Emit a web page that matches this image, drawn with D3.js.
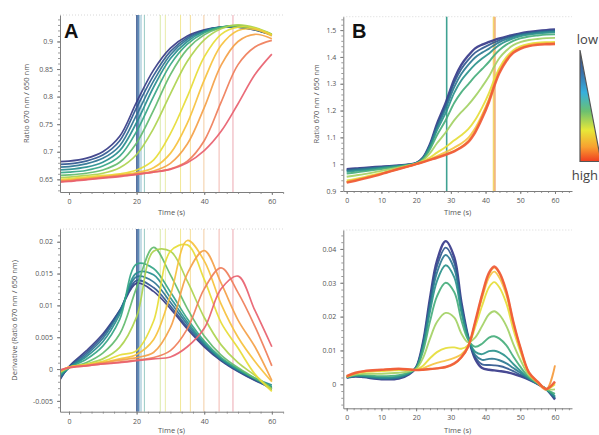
<!DOCTYPE html>
<html>
<head>
<meta charset="utf-8">
<script src="https://cdn.jsdelivr.net/npm/d3@7"></script>
<style>
body { margin: 0; background: #fff; }
svg { display: block; font-family: 'Open Sans', sans-serif; }
.axis path, .axis line { stroke: #7d7d7d; }
.axis text { fill: #555; font-size: 7px; font-family: 'Open Sans', sans-serif; }
.minor line { stroke: #9a9a9a; }
.minor path { display: none; }
.title { fill: #555; font-size: 7.5px; }
.letter { fill: #111; font-size: 20px; font-weight: bold; font-family: 'Liberation Sans', Arial, sans-serif; }
</style>
</head>
<body>
<svg id="chart" width="599" height="435"></svg>
<script>
// sample times (s)
const tA = [-3, 0, 5, 10, 15, 20, 25, 30, 35, 40, 45, 50, 55, 60];
const tB = [0, 2.5, 5, 10, 15, 18, 20, 22, 24, 26, 28.5, 31, 33, 35, 37, 39, 41, 42.5, 44, 46, 48, 50, 52.5, 55, 57.5, 60];

// panel A, ratio 670/650, low -> high
const ratioA = [
    [0.682, 0.683, 0.688, 0.700, 0.728, 0.790, 0.848, 0.888, 0.910, 0.921, 0.926, 0.926, 0.921, 0.912],
    [0.677, 0.678, 0.683, 0.694, 0.720, 0.780, 0.838, 0.882, 0.907, 0.920, 0.926, 0.926, 0.921, 0.912],
    [0.672, 0.673, 0.678, 0.688, 0.711, 0.767, 0.828, 0.876, 0.904, 0.919, 0.926, 0.927, 0.922, 0.912],
    [0.667, 0.668, 0.672, 0.681, 0.702, 0.753, 0.817, 0.869, 0.900, 0.918, 0.926, 0.927, 0.922, 0.912],
    [0.662, 0.663, 0.666, 0.674, 0.692, 0.737, 0.800, 0.858, 0.895, 0.916, 0.926, 0.928, 0.923, 0.912],
    [0.657, 0.658, 0.661, 0.667, 0.681, 0.716, 0.775, 0.840, 0.886, 0.912, 0.925, 0.929, 0.924, 0.913],
    [0.653, 0.654, 0.657, 0.661, 0.671, 0.695, 0.742, 0.805, 0.864, 0.903, 0.923, 0.930, 0.925, 0.913],
    [0.650, 0.651, 0.654, 0.657, 0.660, 0.667, 0.685, 0.733, 0.800, 0.872, 0.913, 0.926, 0.924, 0.912],
    [0.648, 0.649, 0.652, 0.655, 0.658, 0.662, 0.671, 0.697, 0.752, 0.830, 0.893, 0.920, 0.922, 0.910],
    [0.647, 0.648, 0.651, 0.654, 0.657, 0.660, 0.665, 0.679, 0.714, 0.780, 0.857, 0.900, 0.913, 0.905],
    [0.646, 0.647, 0.650, 0.653, 0.656, 0.659, 0.663, 0.669, 0.683, 0.720, 0.790, 0.858, 0.890, 0.902],
    [0.645, 0.646, 0.649, 0.652, 0.655, 0.659, 0.663, 0.668, 0.680, 0.702, 0.737, 0.787, 0.840, 0.877]
];

// panel A, derivative
const derivA = [
    [-0.0020, 0.0004, 0.0028, 0.0055, 0.0092, 0.0135, 0.0122, 0.0095, 0.0063, 0.0035, 0.0013, -0.0004, -0.0018, -0.0030],
    [-0.0018, 0.0003, 0.0025, 0.0052, 0.0092, 0.0139, 0.0128, 0.0099, 0.0066, 0.0037, 0.0014, -0.0003, -0.0017, -0.0028],
    [-0.0015, 0.0002, 0.0022, 0.0048, 0.0090, 0.0145, 0.0137, 0.0105, 0.0070, 0.0039, 0.0015, -0.0002, -0.0016, -0.0032],
    [-0.0012, 0.0002, 0.0019, 0.0043, 0.0086, 0.0151, 0.0148, 0.0112, 0.0074, 0.0041, 0.0016, -0.0001, -0.0015, -0.0025],
    [-0.0010, 0.0002, 0.0015, 0.0036, 0.0078, 0.0165, 0.0158, 0.0121, 0.0079, 0.0044, 0.0018, 0.0000, -0.0015, -0.0028],
    [-0.0008, 0.0002, 0.0010, 0.0025, 0.0055, 0.0128, 0.0191, 0.0148, 0.0095, 0.0052, 0.0022, 0.0002, -0.0014, -0.0030],
    [-0.0006, 0.0002, 0.0008, 0.0016, 0.0034, 0.0082, 0.0185, 0.0185, 0.0138, 0.0081, 0.0038, 0.0010, -0.0010, -0.0032],
    [-0.0005, 0.0003, 0.0007, 0.0012, 0.0022, 0.0029, 0.0075, 0.0185, 0.0195, 0.0141, 0.0073, 0.0033, -0.0008, -0.0035],
    [-0.0004, 0.0003, 0.0006, 0.0010, 0.0016, 0.0023, 0.0046, 0.0116, 0.0202, 0.0170, 0.0102, 0.0050, 0.0012, -0.0020],
    [-0.0004, 0.0003, 0.0006, 0.0010, 0.0014, 0.0018, 0.0026, 0.0065, 0.0150, 0.0186, 0.0135, 0.0077, 0.0035, -0.0018],
    [-0.0003, 0.0002, 0.0005, 0.0008, 0.0011, 0.0014, 0.0018, 0.0029, 0.0063, 0.0126, 0.0159, 0.0120, 0.0067, 0.0005],
    [-0.0002, 0.0002, 0.0005, 0.0008, 0.0010, 0.0013, 0.0016, 0.0019, 0.0035, 0.0064, 0.0126, 0.0146, 0.0092, 0.0035]
];

// panel B, ratio 670/650
const ratioB = [
    [0.981, 0.984, 0.986, 0.991, 0.995, 0.999, 1.004, 1.025, 1.075, 1.150, 1.228, 1.318, 1.370, 1.405, 1.432, 1.446, 1.456, 1.463, 1.469, 1.476, 1.482, 1.488, 1.493, 1.497, 1.500, 1.502],
    [0.978, 0.982, 0.984, 0.990, 0.994, 0.999, 1.004, 1.024, 1.072, 1.144, 1.218, 1.305, 1.355, 1.389, 1.416, 1.432, 1.445, 1.454, 1.463, 1.472, 1.479, 1.485, 1.490, 1.494, 1.497, 1.499],
    [0.976, 0.979, 0.982, 0.988, 0.994, 0.998, 1.004, 1.023, 1.069, 1.136, 1.207, 1.288, 1.336, 1.370, 1.398, 1.416, 1.431, 1.444, 1.455, 1.466, 1.475, 1.482, 1.487, 1.491, 1.494, 1.496],
    [0.972, 0.975, 0.978, 0.986, 0.993, 0.998, 1.003, 1.022, 1.064, 1.126, 1.191, 1.267, 1.312, 1.344, 1.372, 1.394, 1.413, 1.430, 1.445, 1.459, 1.469, 1.477, 1.483, 1.487, 1.490, 1.492],
    [0.965, 0.969, 0.973, 0.982, 0.991, 0.997, 1.003, 1.019, 1.056, 1.108, 1.164, 1.229, 1.268, 1.298, 1.328, 1.355, 1.382, 1.406, 1.426, 1.446, 1.460, 1.469, 1.476, 1.480, 1.483, 1.484],
    [0.953, 0.958, 0.963, 0.975, 0.988, 0.996, 1.002, 1.015, 1.041, 1.078, 1.118, 1.164, 1.194, 1.221, 1.253, 1.289, 1.328, 1.364, 1.396, 1.424, 1.444, 1.455, 1.463, 1.467, 1.470, 1.471],
    [0.939, 0.945, 0.952, 0.967, 0.984, 0.994, 1.001, 1.011, 1.025, 1.043, 1.064, 1.089, 1.108, 1.131, 1.165, 1.211, 1.266, 1.316, 1.359, 1.399, 1.425, 1.439, 1.448, 1.453, 1.455, 1.456],
    [0.933, 0.940, 0.948, 0.964, 0.983, 0.993, 1.000, 1.009, 1.019, 1.030, 1.045, 1.062, 1.077, 1.098, 1.134, 1.184, 1.243, 1.299, 1.346, 1.390, 1.418, 1.433, 1.443, 1.448, 1.450, 1.451],
    [0.934, 0.941, 0.948, 0.965, 0.983, 0.993, 1.000, 1.008, 1.017, 1.026, 1.037, 1.050, 1.065, 1.086, 1.124, 1.178, 1.240, 1.298, 1.347, 1.390, 1.418, 1.433, 1.443, 1.448, 1.450, 1.451],
    [0.931, 0.938, 0.946, 0.963, 0.982, 0.993, 1.000, 1.008, 1.016, 1.024, 1.035, 1.048, 1.062, 1.082, 1.118, 1.170, 1.232, 1.290, 1.340, 1.385, 1.415, 1.430, 1.440, 1.445, 1.447, 1.448]
];

// panel B, derivative
const derivB = [
    [0.0020, 0.0023, 0.0021, 0.0015, 0.0017, 0.0030, 0.0050, 0.0125, 0.0255, 0.0365, 0.0423, 0.0375, 0.0245, 0.0140, 0.0075, 0.0048, 0.0043, 0.0041, 0.0039, 0.0036, 0.0031, 0.0024, 0.0014, 0.0001, -0.0015, -0.0045],
    [0.0020, 0.0024, 0.0022, 0.0016, 0.0018, 0.0031, 0.0050, 0.0121, 0.0245, 0.0349, 0.0404, 0.0359, 0.0237, 0.0139, 0.0081, 0.0059, 0.0057, 0.0056, 0.0054, 0.0048, 0.0039, 0.0028, 0.0015, 0.0001, -0.0015, -0.0042],
    [0.0020, 0.0024, 0.0023, 0.0018, 0.0020, 0.0032, 0.0049, 0.0116, 0.0232, 0.0330, 0.0382, 0.0341, 0.0227, 0.0137, 0.0087, 0.0072, 0.0075, 0.0075, 0.0071, 0.0062, 0.0048, 0.0034, 0.0016, 0.0002, -0.0015, -0.0039],
    [0.0021, 0.0025, 0.0024, 0.0020, 0.0023, 0.0033, 0.0049, 0.0109, 0.0215, 0.0305, 0.0352, 0.0316, 0.0214, 0.0135, 0.0096, 0.0089, 0.0098, 0.0099, 0.0094, 0.0081, 0.0060, 0.0040, 0.0018, 0.0002, -0.0015, -0.0035],
    [0.0021, 0.0027, 0.0027, 0.0024, 0.0027, 0.0035, 0.0047, 0.0098, 0.0186, 0.0260, 0.0300, 0.0272, 0.0191, 0.0131, 0.0111, 0.0120, 0.0138, 0.0142, 0.0135, 0.0115, 0.0082, 0.0052, 0.0021, 0.0003, -0.0015, -0.0028],
    [0.0022, 0.0029, 0.0031, 0.0031, 0.0034, 0.0038, 0.0045, 0.0078, 0.0135, 0.0184, 0.0211, 0.0197, 0.0151, 0.0124, 0.0138, 0.0172, 0.0207, 0.0216, 0.0205, 0.0172, 0.0119, 0.0073, 0.0026, 0.0005, -0.0014, -0.0015],
    [0.0023, 0.0032, 0.0036, 0.0039, 0.0042, 0.0042, 0.0043, 0.0055, 0.0077, 0.0095, 0.0107, 0.0109, 0.0105, 0.0116, 0.0169, 0.0232, 0.0287, 0.0302, 0.0286, 0.0239, 0.0162, 0.0097, 0.0032, 0.0007, -0.0014, 0.0000],
    [0.0024, 0.0033, 0.0038, 0.0042, 0.0045, 0.0043, 0.0042, 0.0047, 0.0056, 0.0063, 0.0070, 0.0078, 0.0088, 0.0113, 0.0180, 0.0254, 0.0316, 0.0333, 0.0315, 0.0263, 0.0177, 0.0106, 0.0034, 0.0008, -0.0014, 0.0005],
    [0.0022, 0.0032, 0.0038, 0.0042, 0.0045, 0.0044, 0.0042, 0.0043, 0.0045, 0.0047, 0.0050, 0.0060, 0.0078, 0.0110, 0.0182, 0.0262, 0.0326, 0.0345, 0.0328, 0.0272, 0.0183, 0.0108, 0.0033, 0.0004, -0.0016, 0.0056],
    [0.0024, 0.0034, 0.0039, 0.0043, 0.0046, 0.0044, 0.0042, 0.0043, 0.0045, 0.0047, 0.0051, 0.0062, 0.0080, 0.0112, 0.0185, 0.0265, 0.0330, 0.0348, 0.0330, 0.0275, 0.0185, 0.0110, 0.0035, 0.0008, -0.0014, 0.0008]
];

// vertical marker times (s)
const markersA = [20.1, 20.6, 21.3, 22.3, 27.0, 28.5, 33.0, 35.9, 39.9, 44.4, 48.5];
const markersB = [28.8, 42.3, 42.7];

// tick values
const xTicksA = [0, 20, 40, 60];
const xTicksB = [0, 10, 20, 30, 40, 50, 60];
const yTicksRatioA = [0.65, 0.7, 0.75, 0.8, 0.85, 0.9];
const yTicksDerivA = [-0.005, 0, 0.005, 0.01, 0.015, 0.02];
const yTicksRatioB = [0.9, 1, 1.1, 1.2, 1.3, 1.4, 1.5];
const yTicksDerivB = [0, 0.01, 0.02, 0.03, 0.04];

const colorsA = ['#363b85', '#2f5790', '#2b7393', '#268d8f', '#34a585', '#62bb6e',
                 '#acd24e', '#e6dc35', '#f6c13c', '#f4a047', '#ef7d59', '#e85f6e'];
const colorsB = ['#37398a', '#31588f', '#2c7891', '#2b938c', '#46ae7c', '#a3d165',
                 '#e5dd3a', '#f5c443', '#f59a3c', '#ef5b39'];
const markerColorsA = ['#3b5a92', '#4d7fb0', '#7fb3c8', '#8cc4bd', '#d5e6a0', '#e6e8a0',
                       '#f1e48a', '#f4d98f', '#f3c89a', '#f1b0a8', '#eaa0a8'];
const markerColorsB = ['#2a9886', '#f2d15a', '#efa86a'];

const svg = d3.select('#chart');
const fmt = d => String(+d.toFixed(4));

function drawPanel(p) {
    const x = d3.scaleLinear().domain(p.xDomain).range([p.left, p.right]);
    const y = d3.scaleLinear().domain(p.yDomain).range([p.bottom, p.top]);
    const g = svg.append('g');

    // dotted frame at the top
    g.append('line')
        .attr('x1', p.left).attr('x2', p.right)
        .attr('y1', p.top).attr('y2', p.top)
        .attr('stroke', '#d8d8d8')
        .attr('stroke-dasharray', '1,2');

    svg.append('clipPath').attr('id', 'clip-' + p.id)
        .append('rect')
        .attr('x', p.left).attr('y', p.top)
        .attr('width', p.right - p.left).attr('height', p.bottom - p.top);

    // markers
    g.selectAll('.marker')
        .data(p.markers)
        .enter()
        .append('line')
        .attr('x1', d => x(d)).attr('x2', d => x(d))
        .attr('y1', p.top).attr('y2', p.bottom)
        .attr('stroke', (d, i) => p.markerColors[i])
        .attr('stroke-width', (d, i) => p.markerWidth(i))
        .attr('stroke-opacity', 0.9);

    const line = d3.line()
        .x((d, i) => x(p.times[i]))
        .y(d => y(d))
        .curve(d3.curveCatmullRom.alpha(0.5));

    g.append('g')
        .attr('clip-path', `url(#clip-${p.id})`)
        .selectAll('path')
        .data(p.series)
        .enter()
        .append('path')
        .attr('d', line)
        .attr('fill', 'none')
        .attr('stroke', (d, i) => p.colors[i])
        .attr('stroke-width', (d, i) => p.lineWidth(i))
        .attr('stroke-opacity', 0.92);

    // axes
    g.append('g').attr('class', 'axis minor')
        .attr('transform', `translate(0,${p.bottom})`)
        .call(d3.axisBottom(x).tickValues(p.xMinor).tickSize(2).tickFormat(''));
    g.append('g').attr('class', 'axis')
        .attr('transform', `translate(0,${p.bottom})`)
        .call(d3.axisBottom(x).tickValues(p.xTicks).tickSize(3).tickPadding(4).tickSizeOuter(0).tickFormat(fmt));
    g.append('g').attr('class', 'axis minor')
        .attr('transform', `translate(${p.left},0)`)
        .call(d3.axisLeft(y).tickValues(p.yMinor).tickSize(2).tickFormat(''));
    g.append('g').attr('class', 'axis')
        .attr('transform', `translate(${p.left},0)`)
        .call(d3.axisLeft(y).tickValues(p.yTicks).tickSize(3).tickPadding(4).tickSizeOuter(0).tickFormat(fmt));

    g.append('text').attr('class', 'title')
        .attr('x', (p.left + p.right) / 2).attr('y', p.xLabelY)
        .attr('text-anchor', 'middle')
        .text('Time (s)');

    if (p.yLabel) {
        g.append('text').attr('class', 'title')
            .attr('transform', `translate(${p.yLabelX},${(p.top + p.bottom) / 2}) rotate(-90)`)
            .attr('text-anchor', 'middle')
            .text(p.yLabel);
    }
}

const stepRange = (a, b, s) => d3.range(Math.round(a / s), Math.round(b / s) + 1).map(k => +(k * s).toFixed(5));

drawPanel({
    id: 'a1', left: 60, right: 283, top: 15, bottom: 192,
    xDomain: [-2.66, 63.3], yDomain: [0.627, 0.948],
    xTicks: xTicksA, xMinor: stepRange(0, 63, 10 / 3),
    yTicks: yTicksRatioA, yMinor: stepRange(0.63, 0.94, 0.01),
    times: tA, series: ratioA, colors: colorsA, lineWidth: () => 1.7,
    markers: markersA, markerColors: markerColorsA, markerWidth: i => i < 2 ? 1.8 : 1,
    xLabelY: 215, yLabel: 'Ratio 670 nm / 650 nm', yLabelX: 29
});

drawPanel({
    id: 'a2', left: 60, right: 283, top: 229, bottom: 411.7,
    xDomain: [-2.66, 63.3], yDomain: [-0.0067, 0.022],
    xTicks: xTicksA, xMinor: stepRange(0, 63, 10 / 3),
    yTicks: yTicksDerivA, yMinor: stepRange(-0.006, 0.021, 0.001),
    times: tA, series: derivA, colors: colorsA, lineWidth: () => 1.7,
    markers: markersA, markerColors: markerColorsA, markerWidth: i => i < 2 ? 1.8 : 1,
    xLabelY: 432.5, yLabel: 'Derivative (Ratio 670 nm / 650 nm)', yLabelX: 17
});

drawPanel({
    id: 'b1', left: 343.3, right: 572, top: 16.7, bottom: 191,
    xDomain: [-0.98, 64.9], yDomain: [0.9, 1.55],
    xTicks: xTicksB, xMinor: stepRange(0, 64, 2),
    yTicks: yTicksRatioB, yMinor: stepRange(0.9, 1.54, 0.02),
    times: tB, series: ratioB, colors: colorsB,
    lineWidth: i => (i === 0 || i === 9) ? 2.4 : 1.9,
    markers: markersB, markerColors: markerColorsB, markerWidth: () => 1.6,
    xLabelY: 215, yLabel: 'Ratio 670 nm / 650 nm', yLabelX: 319
});

drawPanel({
    id: 'b2', left: 343.3, right: 572, top: 230, bottom: 408.3,
    xDomain: [-0.98, 64.9], yDomain: [-0.0071, 0.0456],
    xTicks: xTicksB, xMinor: stepRange(0, 64, 2),
    yTicks: yTicksDerivB, yMinor: stepRange(-0.006, 0.044, 0.002),
    times: tB, series: derivB, colors: colorsB,
    lineWidth: i => (i === 0 || i === 9) ? 2.4 : 1.9,
    markers: [], markerColors: [], markerWidth: () => 1,
    xLabelY: 432.5, yLabel: null
});

// panel letters
svg.append('text').attr('class', 'letter').attr('x', 64).attr('y', 38).text('A');
svg.append('text').attr('class', 'letter').attr('x', 352).attr('y', 38).text('B');

// low / high legend
const grad = svg.append('defs').append('linearGradient')
    .attr('id', 'lowhigh').attr('x1', 0).attr('x2', 0).attr('y1', 0).attr('y2', 1);
[['0', '#3d4a78'], ['0.2', '#3a70aa'], ['0.38', '#36b0de'], ['0.55', '#6cc070'],
 ['0.72', '#e8e838'], ['0.87', '#f8a030'], ['1', '#f03c20']].forEach(s => {
    grad.append('stop').attr('offset', s[0]).attr('stop-color', s[1]);
});
svg.append('path')
    .attr('d', 'M580,50 L580,161.5 L601,161.5 Z')
    .attr('fill', 'url(#lowhigh)')
    .attr('stroke', '#555')
    .attr('stroke-width', 1.2);
svg.append('text').attr('x', 598).attr('y', 44).attr('text-anchor', 'end')
    .attr('fill', '#444').attr('font-size', 13).text('low');
svg.append('text').attr('x', 598).attr('y', 180).attr('text-anchor', 'end')
    .attr('fill', '#444').attr('font-size', 13).text('high');
</script>
</body>
</html>
